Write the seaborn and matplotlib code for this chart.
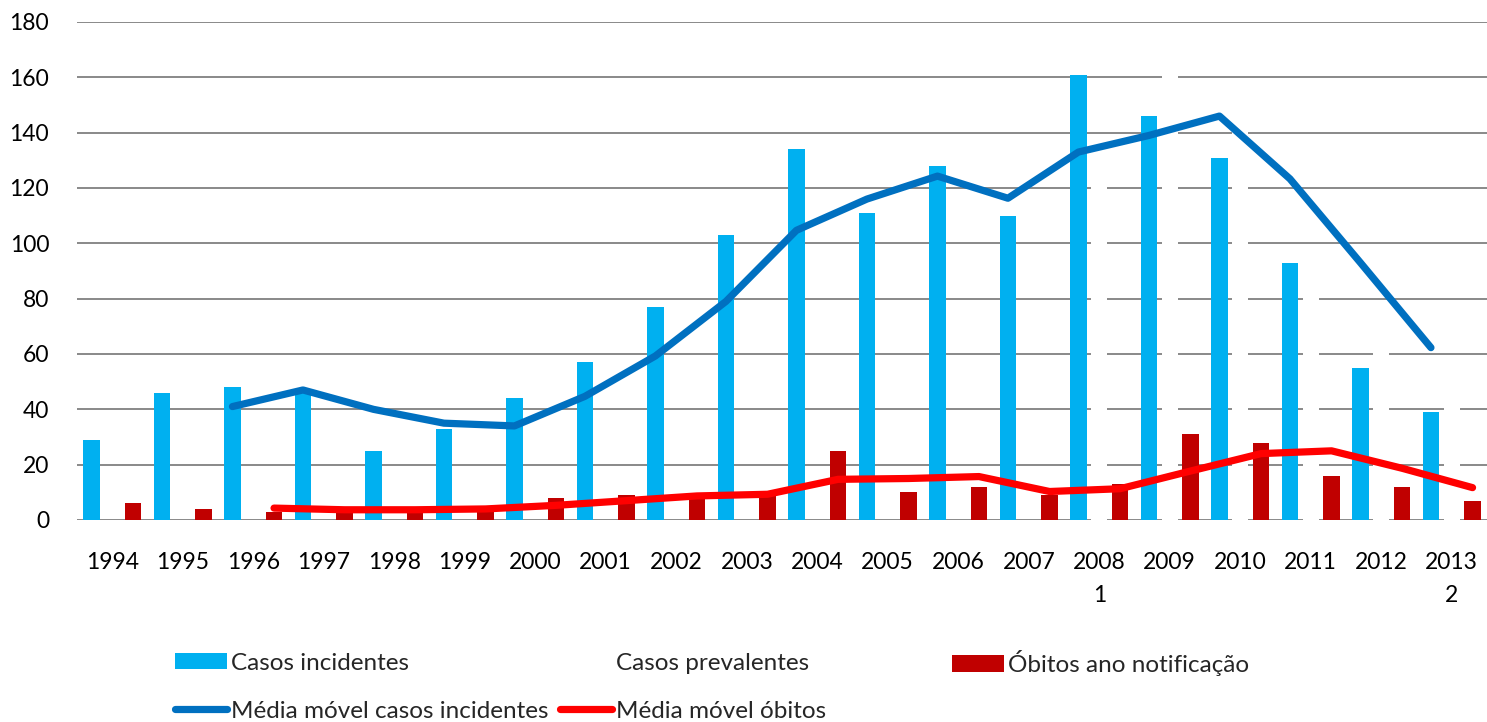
import numpy as np
import pandas as pd
import matplotlib.pyplot as plt
import seaborn as sns
from matplotlib.patches import Patch
from matplotlib.lines import Line2D

nan = np.nan

# Dados
anos = ['1994', '1995', '1996', '1997', '1998', '1999', '2000', '2001', '2002', '2003',
        '2004', '2005', '2006', '2007', '2008\n1', '2009', '2010', '2011', '2012', '2013\n2']
casos_incidentes = [29, 46, 48, 47, 25, 33, 44, 57, 77, 103,
                    134, 111, 128, 110, 161, 146, 131, 93, 55, 39]
# casos prevalentes aparecem só como barras brancas (2008-2013)
casos_prevalentes = [nan, nan, nan, nan, nan, nan, nan, nan, nan, nan,
                     nan, nan, nan, nan, 130, 170, 150, 90, 70, 50]
obitos = [6, 4, 3, 4, 4, 4, 8, 9, 9, 10,
          25, 10, 12, 9, 13, 31, 28, 16, 12, 7]
# médias móveis (3 anos), de 1996 a 2013
media_incidentes = [41, 47, 40, 35, 34, 44.7, 59.3, 79, 104.7, 116,
                    124.3, 116.3, 133, 139, 146, 123.3, 93, 62.3]
media_obitos = [4.3, 3.7, 3.7, 4, 5.3, 7, 8.7, 9.3, 14.7, 15,
                15.7, 10.3, 11.3, 17.7, 24, 25, 18.7, 11.7]

series = ['Casos incidentes', 'Casos prevalentes', 'Óbitos ano notificação']
cores = {'Casos incidentes': '#00B0F0', 'Casos prevalentes': '#FFFFFF',
         'Óbitos ano notificação': '#C00000'}
cor_media_inc = '#0070C0'
cor_media_obi = '#FF0000'

df = pd.DataFrame({
    'ano': anos * 3,
    'serie': [series[0]] * 20 + [series[1]] * 20 + [series[2]] * 20,
    'valor': casos_incidentes + casos_prevalentes + obitos,
})

sns.set_theme(style='whitegrid')
plt.rcParams['font.family'] = ['Lato', 'DejaVu Sans']
fs = 16.5

fig = plt.figure(figsize=(14.87, 7.22), dpi=100)
ax = fig.add_axes([77 / 1487, 202 / 722, 1410 / 1487, 498 / 722])

sns.barplot(data=df, x='ano', y='valor', hue='serie', order=anos, hue_order=series,
            palette=cores, saturation=1, width=0.885, gap=0.207, errorbar=None,
            linewidth=0, legend=False, ax=ax)

off = 0.885 / 3
sns.lineplot(x=np.arange(2, 20) - off, y=media_incidentes, color=cor_media_inc, lw=5.2,
             solid_capstyle='round', solid_joinstyle='round', ax=ax)
sns.lineplot(x=np.arange(2, 20) + off, y=media_obitos, color=cor_media_obi, lw=5.2,
             solid_capstyle='round', solid_joinstyle='round', ax=ax)

ax.set_xlim(-0.5, 19.5)
ax.set_ylim(0, 180)
ax.set_yticks(range(0, 181, 20))
ax.set_xticks(range(20), anos)
ax.set_xlabel('')
ax.set_ylabel('')
ax.grid(axis='y', color='#898989', lw=1.4)
ax.grid(axis='x', visible=False)
ax.set_axisbelow(True)
for s in ax.spines.values():
    s.set_visible(False)
ax.tick_params(axis='both', length=0, labelsize=fs, labelcolor='black')
ax.tick_params(axis='y', pad=20)
ax.tick_params(axis='x', pad=23)
for t in ax.get_xticklabels():
    t.set_linespacing(1.7)

# legenda: cada entrada no seu lugar, colunas de largura igual como no Excel
kw = dict(loc='center left', frameon=False, fontsize=17.5, handlelength=2.15,
          handletextpad=0.15, borderpad=0, borderaxespad=0, handleheight=0.68)
entradas = [
    (Patch(facecolor=cores[series[0]], edgecolor='none'), 'Casos incidentes', 175, 663),
    (Patch(facecolor='none', edgecolor='none'), 'Casos prevalentes', 560, 663),
    (Patch(facecolor=cores[series[2]], edgecolor='none'), 'Óbitos ano notificação', 952, 663),
    (Line2D([], [], color=cor_media_inc, lw=5.2, solid_capstyle='round'),
     'Média móvel casos incidentes', 175, 711),
    (Line2D([], [], color=cor_media_obi, lw=5.2, solid_capstyle='round'),
     'Média móvel óbitos', 560, 711),
]
for h, lab, px, py in entradas:
    fig.legend([h], [lab], bbox_to_anchor=(px / 1487, 1 - py / 722), **kw)

fig.savefig('out.png', dpi=100)
